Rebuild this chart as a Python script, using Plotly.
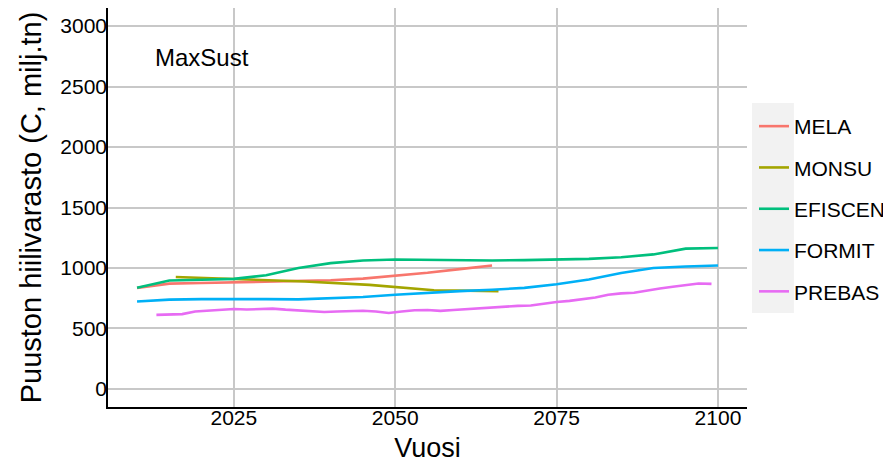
import plotly.graph_objects as go

# ---- data ----
mela_years = [2010, 2015, 2020, 2025, 2030, 2035, 2040, 2045, 2050, 2055, 2060, 2065]
mela_vals = [835, 870, 876, 882, 886, 889, 898, 912, 935, 960, 990, 1020]

monsu_years = [2016, 2026, 2036, 2046, 2056, 2066]
monsu_vals = [925, 908, 888, 860, 815, 808]

efiscen_years = [2010, 2015, 2020, 2025, 2030, 2035, 2040, 2045, 2050, 2055, 2060,
                 2065, 2070, 2075, 2080, 2085, 2090, 2095, 2100]
efiscen_vals = [836, 896, 903, 910, 940, 1000, 1040, 1062, 1070, 1068, 1062,
                1062, 1065, 1068, 1075, 1088, 1112, 1160, 1165]

formit_years = [2010, 2015, 2020, 2025, 2030, 2035, 2040, 2045, 2050, 2055, 2060,
                2065, 2070, 2075, 2080, 2085, 2090, 2095, 2100]
formit_vals = [722, 738, 742, 744, 742, 740, 748, 760, 778, 795, 808,
               820, 835, 865, 905, 958, 1000, 1012, 1020]

prebas_years = list(range(2013, 2100, 2))
prebas_vals = [612, 614, 618, 640, 645, 650, 660, 656, 660, 664, 655, 648, 645, 636,
               640, 642, 646, 640, 628, 640, 650, 652, 645, 652, 660, 666, 670, 684,
               686, 690, 705, 718, 728, 742, 755, 778, 790, 795, 815, 830, 845, 858,
               872, 868]

series_names = ["MELA", "MONSU", "EFISCEN", "FORMIT", "PREBAS"]
series_colors = ["#F8766D", "#A3A500", "#00BF7D", "#00B0F6", "#E76BF3"]
series_x = [mela_years, monsu_years, efiscen_years, formit_years, prebas_years]
series_y = [mela_vals, monsu_vals, efiscen_vals, formit_vals, prebas_vals]

x_ticks = [2025, 2050, 2075, 2100]
y_ticks = [0, 500, 1000, 1500, 2000, 2500, 3000]

panel_label = "MaxSust"
x_title = "Vuosi"
y_title = "Puuston hiilivarasto (C, milj.tn)"

# ---- figure ----
FONT = "Liberation Sans, Arial, sans-serif"
fig = go.Figure()
for name, col, xs, ys in zip(series_names, series_colors, series_x, series_y):
    fig.add_trace(go.Scatter(x=xs, y=ys, mode="lines", name=name, legendgroup=name,
                             line=dict(color=col, width=2.6)))

# page has an 8px body margin: shrink the figure so it fits the 891x463 window
OFF = 8
WIN_W, WIN_H = 891, 463
W, H = WIN_W - OFF, WIN_H - OFF
# target plot box in window pixels: x 108..748, y 8..407
pl, pr, pt, pb = 108, 748, 8, 407
ml, mr, mt, mb = pl - OFF, W - (pr - OFF), pt - OFF, H - (pb - OFF)
pw, ph = pr - pl, pb - pt

def px2paper_x(px):
    return (px - pl) / pw

def px2paper_y(py):
    return (pb - py) / ph

xaxis = dict(range=[2005.5, 2104.5], tickvals=x_ticks, showgrid=True, automargin=False,
             gridcolor="#C8C8C8", gridwidth=1.5, zeroline=False,
             showline=True, linecolor="black", linewidth=1.5, ticks="",
             tickfont=dict(size=21, color="black"),
             title=dict(text=x_title, font=dict(size=27, color="black"), standoff=10))
yaxis = dict(range=[-150, 3150], tickvals=y_ticks, showgrid=True, automargin=False,
             gridcolor="#C8C8C8", gridwidth=1.5, zeroline=False,
             showline=True, linecolor="black", linewidth=1.5, ticks="",
             tickfont=dict(size=21, color="black"),
             title=dict(text=y_title, font=dict(size=29, color="black"), standoff=10))

fig.update_layout(
    width=W, height=H,
    margin=dict(l=ml, r=mr, t=mt, b=mb, pad=0),
    paper_bgcolor="white", plot_bgcolor="white",
    font=dict(family=FONT, color="black", size=21),
    showlegend=True,
    legend=dict(x=px2paper_x(755), y=px2paper_y(106), xanchor="left", yanchor="top",
                bgcolor="rgba(0,0,0,0)", font=dict(size=21, color="black"),
                tracegroupgap=11, itemwidth=30),
    xaxis=xaxis, yaxis=yaxis,
    shapes=[dict(type="rect", xref="paper", yref="paper",
                 x0=px2paper_x(753), x1=px2paper_x(795),
                 y0=px2paper_y(313), y1=px2paper_y(103),
                 fillcolor="#F2F2F2", line=dict(width=0), layer="below")],
    annotations=[dict(text=panel_label, xref="paper", yref="paper",
                      x=px2paper_x(202), y=px2paper_y(57), showarrow=False,
                      xanchor="center", yanchor="middle",
                      font=dict(size=24, color="black"))],
)

try:
    fig.update_xaxes(ticklabelstandoff=-9)
    fig.update_yaxes(ticklabelstandoff=-5)
except Exception:
    pass

fig.write_html("out.html")
